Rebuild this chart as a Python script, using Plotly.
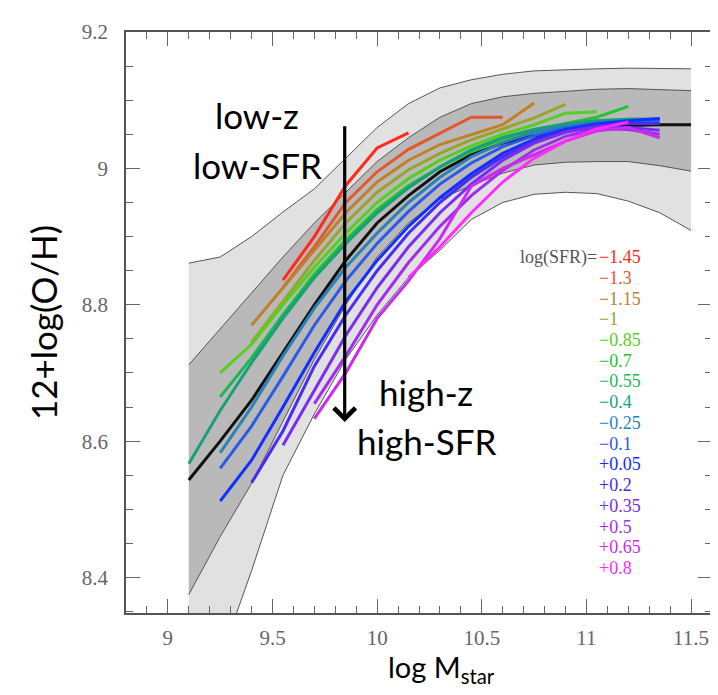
import plotly.graph_objects as go

# ---------------- data ----------------
mass_bins = [9.1, 9.25, 9.4, 9.55, 9.7, 9.85, 10.0, 10.15, 10.3, 10.45,
             10.6, 10.75, 10.9, 11.05, 11.2, 11.35, 11.5]

band_outer_upper = [8.861, 8.870, 8.900, 8.936, 8.970, 9.015, 9.060, 9.095, 9.118,
                    9.130, 9.138, 9.143, 9.145, 9.146, 9.147, 9.147, 9.146]
band_inner_upper = [8.712, 8.765, 8.818, 8.870, 8.920, 8.965, 9.010, 9.045, 9.075,
                    9.095, 9.105, 9.110, 9.113, 9.116, 9.117, 9.116, 9.114]
median_oh = [8.543, 8.600, 8.660, 8.730, 8.800, 8.865, 8.920, 8.960, 8.995,
             9.020, 9.037, 9.048, 9.055, 9.060, 9.063, 9.064, 9.064]
band_inner_lower = [8.375, 8.460, 8.538, 8.630, 8.720, 8.800, 8.870, 8.920, 8.955,
                    8.975, 8.993, 9.005, 9.009, 9.010, 9.010, 9.004, 8.996]
band_outer_lower = [8.140, 8.280, 8.410, 8.550, 8.640, 8.720, 8.785, 8.840, 8.880,
                    8.925, 8.950, 8.962, 8.965, 8.963, 8.952, 8.935, 8.909]

sfr_labels = ["\u22121.45", "\u22121.3", "\u22121.15", "\u22121", "\u22120.85", "\u22120.7",
              "\u22120.55", "\u22120.4", "\u22120.25", "\u22120.1", "+0.05", "+0.2",
              "+0.35", "+0.5", "+0.65", "+0.8"]
sfr_colors = ["#ff2a1a", "#e4572e", "#c08028", "#99a52a", "#55d020", "#22c62a",
              "#1ab850", "#19a07a", "#2a82b8", "#2a5ae8", "#1030ff", "#4a2af5",
              "#7a2cf0", "#a02cf0", "#c82cf0", "#ff2aff"]
# index of first mass bin for each SFR line
sfr_start_bin = [3, 3, 2, 2, 1, 2, 1, 0, 1, 1, 1, 2, 3, 4, 4, 7]
sfr_oh = [
    [8.836, 8.900, 8.975, 9.030, 9.052],
    [8.825, 8.885, 8.950, 8.995, 9.028, 9.052, 9.075, 9.075],
    [8.770, 8.825, 8.880, 8.935, 8.980, 9.012, 9.035, 9.050, 9.064, 9.096],
    [8.745, 8.805, 8.865, 8.920, 8.965, 8.998, 9.022, 9.042, 9.058, 9.074, 9.094],
    [8.700, 8.742, 8.800, 8.855, 8.905, 8.950, 8.985, 9.012, 9.033, 9.050, 9.064, 9.081, 9.083],
    [8.720, 8.785, 8.845, 8.895, 8.940, 8.975, 9.002, 9.025, 9.043, 9.056, 9.066, 9.075, 9.091],
    [8.665, 8.722, 8.785, 8.840, 8.890, 8.935, 8.972, 9.002, 9.027, 9.045, 9.057, 9.065, 9.070, 9.072, 9.072],
    [8.567, 8.645, 8.715, 8.780, 8.840, 8.890, 8.935, 8.972, 9.002, 9.027, 9.045, 9.057, 9.065, 9.070, 9.072, 9.072],
    [8.583, 8.650, 8.725, 8.795, 8.855, 8.905, 8.950, 8.987, 9.017, 9.038, 9.053, 9.062, 9.068, 9.070, 9.070],
    [8.560, 8.622, 8.695, 8.770, 8.835, 8.890, 8.937, 8.977, 9.008, 9.032, 9.048, 9.059, 9.066, 9.070, 9.071],
    [8.512, 8.572, 8.650, 8.730, 8.805, 8.865, 8.915, 8.957, 8.992, 9.022, 9.043, 9.057, 9.065, 9.070, 9.073],
    [8.539, 8.615, 8.710, 8.785, 8.850, 8.905, 8.950, 8.987, 9.017, 9.040, 9.054, 9.063, 9.066, 9.066],
    [8.594, 8.675, 8.755, 8.825, 8.885, 8.935, 8.977, 9.012, 9.037, 9.053, 9.061, 9.060, 9.056],
    [8.655, 8.725, 8.800, 8.862, 8.915, 8.960, 8.997, 9.027, 9.047, 9.058, 9.057, 9.050],
    [8.633, 8.700, 8.780, 8.835, 8.897, 8.974, 9.000, 9.020, 9.040, 9.055, 9.060, 9.045],
    [8.840, 8.885, 8.935, 8.980, 9.015, 9.040, 9.058, 9.068],
]

x_ticks = [9, 9.5, 10, 10.5, 11, 11.5]
y_ticks = [8.4, 8.6, 8.8, 9.0, 9.2]

# ---------------- figure ----------------
fig = go.Figure()
edge = dict(color="#555555", width=1)

fig.add_trace(go.Scatter(x=mass_bins, y=band_outer_lower, mode="lines", line=edge,
                         hoverinfo="skip", showlegend=False))
fig.add_trace(go.Scatter(x=mass_bins, y=band_outer_upper, mode="lines", line=edge,
                         fill="tonexty", fillcolor="#e1e1e1", hoverinfo="skip", showlegend=False))
fig.add_trace(go.Scatter(x=mass_bins, y=band_inner_lower, mode="lines", line=edge,
                         hoverinfo="skip", showlegend=False))
fig.add_trace(go.Scatter(x=mass_bins, y=band_inner_upper, mode="lines", line=edge,
                         fill="tonexty", fillcolor="#b9b9b9", hoverinfo="skip", showlegend=False))
fig.add_trace(go.Scatter(x=mass_bins, y=median_oh, mode="lines",
                         line=dict(color="#111111", width=3), showlegend=False))

for lab, col, s, vals in zip(sfr_labels, sfr_colors, sfr_start_bin, sfr_oh):
    fig.add_trace(go.Scatter(x=mass_bins[s:s + len(vals)], y=vals, mode="lines",
                             line=dict(color=col, width=3), name=lab, showlegend=False))

big_font = dict(family="Lato, Noto Sans, sans-serif", size=35, color="#000000")
annotations = [
    dict(x=9.428, y=9.079, xref="x", yref="y", text="low-z", showarrow=False, font=big_font),
    dict(x=9.428, y=9.005, xref="x", yref="y", text="low-SFR", showarrow=False, font=big_font),
    dict(x=10.235, y=8.672, xref="x", yref="y", text="high-z", showarrow=False, font=big_font),
    dict(x=10.235, y=8.600, xref="x", yref="y", text="high-SFR", showarrow=False, font=big_font),
    dict(x=9.845, y=8.628, ax=9.845, ay=9.064, xref="x", yref="y", axref="x", ayref="y",
         text="", showarrow=True, arrowhead=4, arrowsize=1.3, arrowwidth=3.2,
         arrowcolor="#000000", standoff=0, startstandoff=0),
    dict(x=0.538, y=-0.0595, xref="paper", yref="paper", xanchor="center", yanchor="top",
         text="log M<sub>star</sub>", showarrow=False, borderpad=0,
         font=dict(family="Lato, Noto Sans, sans-serif", size=29, color="#000000")),
]

serif = "Liberation Serif, Times New Roman, serif"
leg_x = 11.057
leg_y0 = 8.870
leg_dy = 0.0304
annotations.append(dict(x=leg_x, y=leg_y0, xref="x", yref="y", xanchor="right",
                        text="log(SFR)=", showarrow=False, borderpad=0,
                        font=dict(family=serif, size=18, color="#555555")))
for i, (lab, col) in enumerate(zip(sfr_labels, sfr_colors)):
    annotations.append(dict(x=leg_x, y=leg_y0 - i * leg_dy, xref="x", yref="y",
                            xanchor="left", text=lab, showarrow=False, borderpad=0,
                            font=dict(family=serif, size=18, color=col)))

axis_common = dict(showline=True, linecolor="#555555", linewidth=1.5, mirror="ticks",
                   ticks="inside", ticklen=14, tickwidth=1.3, tickcolor="#666666",
                   showgrid=False, zeroline=False,
                   tickfont=dict(family=serif, size=21, color="#666666"))

fig.update_layout(
    width=718, height=695,
    margin=dict(l=118, r=13, t=17, b=90),
    paper_bgcolor="white", plot_bgcolor="white",
    xaxis=dict(range=[8.8, 11.6], tickvals=x_ticks,
               ticktext=[f"{v:g}" for v in x_ticks],
               minor=dict(dtick=0.1, tick0=9, ticks="inside", ticklen=7,
                          tickcolor="#666666", tickwidth=1.3),
               ticklabelstandoff=5, **axis_common),
    yaxis=dict(range=[8.348, 9.2], tickvals=y_ticks,
               ticktext=[f"{v:g}" for v in y_ticks],
               minor=dict(dtick=0.05, tick0=8.4, ticks="inside", ticklen=7,
                          tickcolor="#666666", tickwidth=1.3),
               ticklabelstandoff=12,
               title=dict(text="12+log(O/H)", font=big_font, standoff=14),
               **axis_common),
    annotations=annotations,
)

fig.write_html("out.html")
